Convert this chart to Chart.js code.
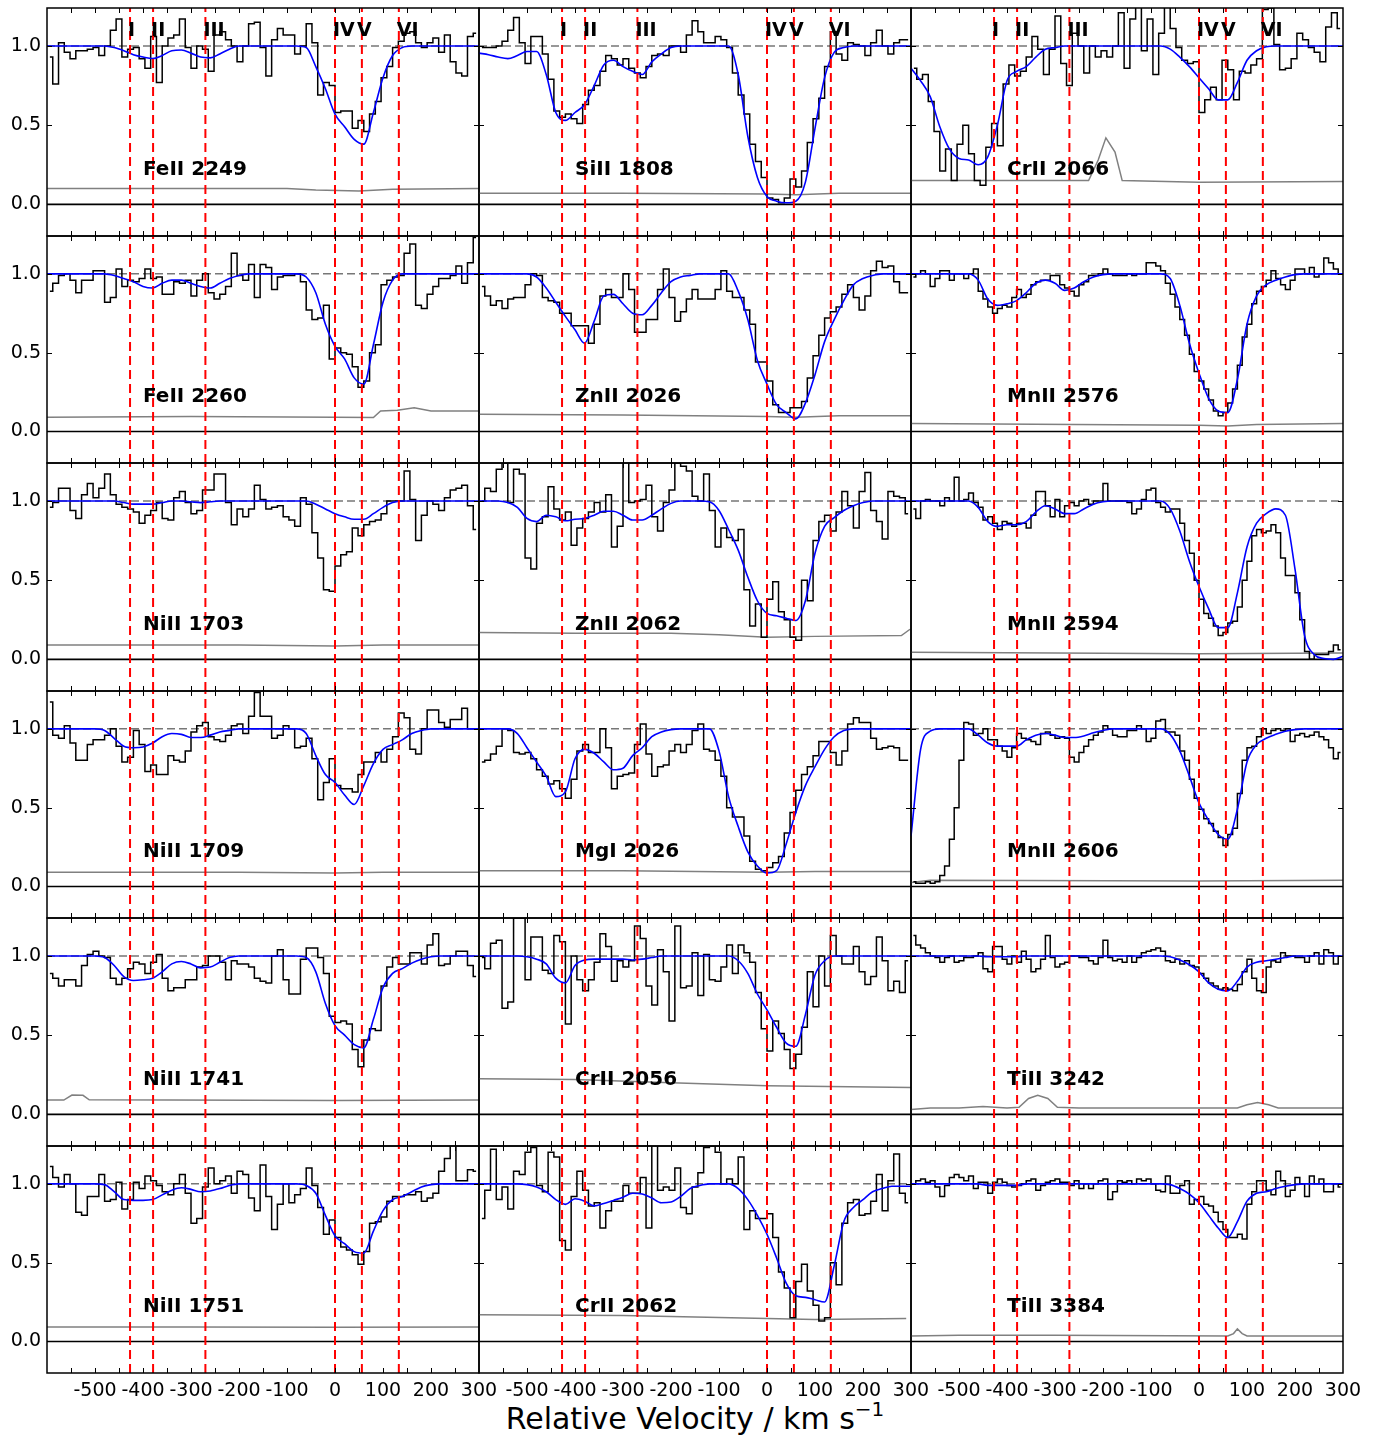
<!DOCTYPE html>
<html>
<head>
<meta charset="utf-8">
<script src="https://cdn.jsdelivr.net/npm/chart.js@4.4.1/dist/chart.umd.min.js"></script>
<style>
  html, body { margin: 0; padding: 0; background: #fff; }
  #fig { position: relative; width: 1386px; height: 1438px; overflow: hidden; background: #fff; }
  #fig canvas { position: absolute; }
  #xlabel {
    position: absolute; left: 47px; width: 1296px; top: 1404px;
    text-align: center; font-family: "DejaVu Sans", sans-serif; font-size: 30px; line-height: 30px; color: #000;
  }
  #xlabel span { font-size: 20px; position: relative; top: -13px; }
</style>
</head>
<body>
<div id="fig"><div id="xlabel">Relative Velocity / km s<span>&minus;1</span></div></div>
<script>
/* ── velocity grids (km/s) ── */
const VEL12 = [-594,-582,-570,-558,-546,-534,-522,-510,-498,-486,
  -474,-462,-450,-438,-426,-414,-402,-390,-378,-366,
  -354,-342,-330,-318,-306,-294,-282,-270,-258,-246,
  -234,-222,-210,-198,-186,-174,-162,-150,-138,-126,
  -114,-102,-90,-78,-66,-54,-42,-30,-18,-6,
  6,18,30,42,54,66,78,90,102,114,
  126,138,150,162,174,186,198,210,222,234,
  246,258,270,282,294];
const VEL10 = [-595,-585,-575,-565,-555,-545,-535,-525,-515,-505,
  -495,-485,-475,-465,-455,-445,-435,-425,-415,-405,
  -395,-385,-375,-365,-355,-345,-335,-325,-315,-305,
  -295,-285,-275,-265,-255,-245,-235,-225,-215,-205,
  -195,-185,-175,-165,-155,-145,-135,-125,-115,-105,
  -95,-85,-75,-65,-55,-45,-35,-25,-15,-5,
  5,15,25,35,45,55,65,75,85,95,
  105,115,125,135,145,155,165,175,185,195,
  205,215,225,235,245,255,265,275,285,295];
const VEL_MODEL = [-600,-580,-560,-540,-520,-500,-480,-460,-440,-420,
  -400,-380,-360,-340,-320,-300,-280,-260,-240,-220,
  -200,-180,-160,-140,-120,-100,-80,-60,-40,-20,
  0,20,40,60,80,100,120,140,160,180,
  200,220,240,260,280,300];

const COMPONENT_V = [-427, -379, -270, 0, 56, 133];
const COMPONENT_NAMES = ['I', 'II', 'III', 'IV', 'V', 'VI'];
const X_TICK_LABELS = [-500, -400, -300, -200, -100, 0, 100, 200, 300];
const X_MINOR = [-550,-500,-450,-400,-350,-300,-250,-200,-150,-100,-50,0,50,100,150,200,250];
const Y_TICKS = [0, 0.5, 1.0];

/* ── FeII 2249 ── */
const FEII2249_FLUX = [0.93,0.76,1.02,0.96,0.92,0.97,0.97,0.98,0.99,0.94,
  1.0,1.1,1.17,0.93,0.98,0.99,0.92,0.86,1.06,0.77,
  1.0,1.05,1.07,1.17,0.99,0.86,1.0,0.98,0.84,1.07,
  1.09,1.04,1.0,0.9,1.0,1.14,1.15,0.99,0.81,1.04,
  1.11,1.07,1.07,0.95,1.0,1.14,1.02,0.69,0.77,0.75,
  0.58,0.59,0.59,0.48,0.53,0.46,0.57,0.65,0.8,0.87,
  0.99,1.03,1.08,1.09,1.02,0.99,1.02,1.05,0.96,1.07,
  0.9,0.83,0.81,1.06,1.08];
const FEII2249_MODEL = [1,1,1,1,1,1,1,0.99,0.97,0.945,
  0.93,0.92,0.94,0.97,0.975,0.955,0.93,0.925,0.95,0.98,
  1,1,1,1,1,1,1,0.99,0.87,0.73,
  0.57,0.49,0.41,0.38,0.58,0.8,0.94,0.99,1,1,
  1,1,1,1,1,1];
const FEII2249_ERR = [[-600,0.1],[-300,0.1],[-100,0.1],[-40,0.09],[50,0.085],[120,0.095],[300,0.1]];

/* ── FeII 2260 ── */
const FEII2260_FLUX = [0.89,0.94,0.99,1.0,0.96,0.88,0.96,0.96,1.02,1.02,
  0.82,0.85,1.03,0.92,0.96,0.95,0.97,1.03,0.97,0.98,
  0.87,0.87,0.95,0.94,0.96,0.86,0.96,1.0,0.88,0.84,
  0.87,0.92,1.13,0.99,0.96,1.06,0.85,1.06,1.04,0.9,
  0.98,0.99,0.99,1.0,0.95,0.77,0.71,0.72,0.8,0.46,
  0.53,0.5,0.49,0.41,0.28,0.32,0.5,0.55,0.93,0.96,
  0.98,0.99,1.13,1.19,0.8,0.78,0.87,0.92,0.97,0.97,
  0.99,1.05,0.94,1.07,1.23];
const FEII2260_MODEL = [1,1,1,1,1,1,1,0.99,0.97,0.95,
  0.92,0.91,0.94,0.96,0.96,0.94,0.92,0.91,0.94,0.97,
  0.99,1,1,1,1,1,1,0.98,0.88,0.68,
  0.54,0.46,0.34,0.3,0.55,0.82,0.96,1,1,1,
  1,1,1,1,1,1];
const FEII2260_ERR = [[-600,0.09],[-300,0.095],[0,0.09],[80,0.088],[95,0.13],[130,0.135],[165,0.15],[200,0.13],[300,0.13]];

/* ── NiII 1703 ── */
const NIII1703_FLUX = [0.96,0.99,1.08,1.08,0.94,0.89,1.04,1.11,1.02,1.08,
  1.17,1.04,0.98,0.96,0.95,0.93,0.86,0.91,0.94,0.99,
  0.89,0.88,1.02,1.06,0.99,0.92,0.94,1.07,1.07,1.17,
  1.17,0.99,0.85,0.95,0.9,0.95,1.1,1.01,0.95,0.96,
  0.97,0.9,0.88,0.84,1.02,0.98,0.8,0.64,0.44,0.43,
  0.59,0.66,0.68,0.83,0.78,0.85,0.87,0.88,0.92,1.0,
  1.0,1.0,1.19,1.01,0.75,0.91,1.0,0.98,0.94,1.02,
  1.07,1.08,1.1,0.97,0.82];
const NIII1703_MODEL = [1,1,1,1,1,1,1,1,0.99,0.98,
  0.98,0.98,0.99,1,1,0.995,0.99,0.995,1,1,
  1,1,1,1,1,1,1,1,0.98,0.95,
  0.92,0.9,0.885,0.885,0.92,0.96,0.99,1,1,1,
  1,1,1,1,1,1];
const NIII1703_ERR = [[-600,0.09],[-200,0.09],[0,0.085],[100,0.09],[300,0.09]];

/* ── NiII 1709 ── */
const NIII1709_FLUX = [1.17,0.96,0.94,1.02,0.91,0.8,0.8,0.9,0.93,0.93,
  0.96,1.0,0.89,0.79,0.82,0.99,0.9,0.73,0.77,0.71,
  0.71,0.83,0.8,0.79,0.86,0.98,1.02,1.04,0.95,0.93,
  0.92,0.96,1.02,1.03,0.97,1.08,1.23,1.08,1.08,0.94,
  0.96,1.02,1.0,0.88,0.89,0.94,0.81,0.55,0.66,0.81,
  0.64,0.62,0.62,0.6,0.71,0.79,0.79,0.85,0.79,0.87,
  0.95,1.1,1.07,0.87,0.84,1.0,1.12,1.12,1.04,1.01,
  1.06,1.06,1.13,1.0,1.0];
const NIII1709_MODEL = [1,1,1,1,1,1,0.99,0.94,0.89,0.88,
  0.885,0.91,0.95,0.97,0.965,0.945,0.945,0.96,0.98,0.99,
  1,1,1,1,1,1,1,0.97,0.83,0.71,
  0.66,0.58,0.52,0.64,0.78,0.87,0.9,0.93,0.97,0.99,
  1,1,1,1,1,1];
const NIII1709_ERR = [[-600,0.09],[-200,0.09],[0,0.085],[100,0.09],[300,0.09]];

/* ── NiII 1741 ── */
const NIII1741_FLUX = [0.89,0.86,0.81,0.85,0.85,0.81,0.94,1.01,1.03,1.0,
  0.99,0.86,0.82,0.86,0.92,0.96,0.95,0.89,0.96,1.01,
  0.86,0.78,0.8,0.8,0.85,0.85,0.93,0.94,1.0,1.0,
  0.96,0.85,0.97,0.95,0.95,0.93,0.86,0.84,0.83,1.0,
  1.04,0.85,0.76,0.76,0.98,1.05,1.05,0.99,0.89,0.62,
  0.58,0.59,0.57,0.41,0.3,0.47,0.54,0.53,0.81,0.93,
  0.99,0.95,0.95,1.02,1.02,0.95,1.07,1.14,0.94,0.95,
  1.0,1.03,1.03,0.94,0.87];
const NIII1741_MODEL = [1,1,1,1,1,1,0.99,0.94,0.87,0.845,
  0.85,0.86,0.9,0.95,0.965,0.95,0.925,0.93,0.96,0.99,
  1,1,1,1,1,1,1,0.99,0.9,0.7,
  0.56,0.5,0.44,0.42,0.6,0.8,0.89,0.92,0.955,0.98,
  0.995,1,1,1,1,1];
const NIII1741_ERR = [[-600,0.09],[-565,0.09],[-548,0.122],[-525,0.12],[-512,0.092],[0,0.088],[300,0.09]];

/* ── NiII 1751 ── */
const NIII1751_FLUX = [1.11,1.04,0.98,1.06,1.0,0.82,0.8,0.92,0.92,1.06,
  0.89,0.9,1.01,0.84,0.9,1.01,0.97,1.05,1.02,0.99,
  0.95,0.93,1.0,1.06,0.94,0.75,0.78,0.98,1.1,1.0,
  1.02,1.05,0.94,1.08,1.06,0.91,0.83,1.12,0.92,0.71,
  0.87,1.0,0.88,0.93,0.97,1.1,0.99,0.85,0.68,0.77,
  0.66,0.6,0.58,0.55,0.49,0.57,0.75,0.76,0.79,0.89,
  0.92,0.92,0.93,0.93,0.95,0.89,0.91,0.94,1.08,1.16,
  1.25,1.02,1.02,1.09,1.08];
const NIII1751_MODEL = [1,1,1,1,1,1,0.995,0.95,0.9,0.895,
  0.895,0.9,0.93,0.96,0.975,0.965,0.95,0.955,0.97,0.99,
  1,1,1,1,1,1,1,0.99,0.94,0.8,
  0.67,0.62,0.57,0.56,0.7,0.83,0.9,0.92,0.95,0.98,
  0.995,1,1,1,1,1];
const NIII1751_ERR = [[-600,0.092],[-300,0.092],[0,0.09],[300,0.092]];

/* ── SiII 1808 ── */
const SIII1808_FLUX = [0.99,0.99,0.99,1.0,1.03,1.1,1.18,1.02,0.89,1.06,
  1.06,0.95,0.79,0.59,0.55,0.57,0.54,0.51,0.63,0.72,
  0.75,0.84,0.94,0.92,0.88,0.92,0.86,0.83,0.8,0.87,
  0.94,0.95,0.94,1.0,1.0,0.96,1.07,1.16,1.09,1.02,
  1.02,1.06,1.04,0.99,0.83,0.69,0.57,0.38,0.27,0.17,
  0.04,0.03,0.01,0.04,0.16,0.11,0.21,0.39,0.54,0.67,
  0.87,1.09,0.95,0.91,1.02,1.01,1.0,0.94,1.02,1.1,
  1.0,0.95,1.02,1.04,1.04];
const SIII1808_MODEL = [0.955,0.945,0.93,0.92,0.94,0.965,0.965,0.82,0.58,0.53,
  0.58,0.63,0.75,0.88,0.91,0.87,0.84,0.82,0.9,0.95,
  0.99,1,1,1,1,1,1,0.82,0.43,0.17,
  0.05,0.02,0.01,0.02,0.14,0.48,0.8,0.96,0.99,1,
  1,1,1,1,1,1];
const SIII1808_ERR = [[-600,0.07],[-300,0.07],[0,0.065],[60,0.06],[150,0.07],[300,0.07]];

/* ── ZnII 2026 ── */
const ZNII2026_FLUX = [0.92,0.86,0.8,0.83,0.78,0.84,0.85,0.85,0.93,1.0,
  0.99,0.85,0.83,0.82,0.75,0.75,0.67,0.67,0.67,0.56,
  0.68,0.86,0.9,0.85,0.85,1.0,0.9,0.63,0.63,0.71,
  0.71,0.9,1.03,0.85,0.7,0.76,0.84,0.9,0.84,0.84,
  0.84,0.9,1.02,0.89,0.85,0.85,0.77,0.68,0.44,0.44,
  0.32,0.17,0.12,0.12,0.15,0.15,0.19,0.34,0.48,0.61,
  0.72,0.76,0.79,0.87,0.93,0.85,0.77,0.86,1.02,1.08,
  1.04,1.05,0.95,0.88,0.88];
const ZNII2026_MODEL = [1,1,1,1,1,1,0.98,0.91,0.82,0.73,
  0.645,0.56,0.7,0.86,0.87,0.81,0.75,0.74,0.8,0.88,
  0.95,0.98,0.99,1,1,1,1,0.89,0.71,0.45,
  0.3,0.17,0.12,0.08,0.18,0.36,0.57,0.71,0.83,0.93,
  0.97,0.99,1,1,1,1];
const ZNII2026_ERR = [[-600,0.11],[-300,0.105],[0,0.095],[60,0.09],[150,0.1],[300,0.1]];

/* ── ZnII 2062 ── */
const ZNII2062_FLUX = [1.0,1.08,1.06,1.2,1.24,0.99,1.2,1.17,0.64,0.57,
  0.86,0.9,1.09,0.95,0.88,0.93,0.72,0.83,0.89,0.93,
  0.99,0.93,1.04,0.71,0.84,1.25,0.99,1.0,1.01,1.1,
  0.9,0.81,0.99,1.07,1.24,1.22,1.19,1.03,1.0,1.17,
  0.94,0.71,0.83,0.77,0.75,0.82,0.44,0.21,0.35,0.14,
  0.38,0.49,0.3,0.25,0.14,0.12,0.5,0.37,0.75,0.87,
  0.91,0.81,0.93,1.06,0.97,0.83,1.06,1.18,0.94,0.87,
  0.76,1.06,1.03,1.02,0.92];
const ZNII2062_MODEL = [1,1,1,0.99,0.96,0.89,0.87,0.91,0.9,0.875,
  0.885,0.89,0.91,0.935,0.935,0.91,0.88,0.88,0.91,0.95,
  0.985,1,1,1,0.995,0.94,0.82,0.69,0.52,0.37,
  0.29,0.275,0.26,0.245,0.37,0.67,0.84,0.895,0.94,0.97,
  0.99,1,1,1,1,1];
const ZNII2062_ERR = [[-600,0.17],[-400,0.165],[-200,0.165],[-100,0.155],[0,0.14],[100,0.145],[280,0.15],[298,0.19]];

/* ── MgI 2026 ── */
const MGI2026_FLUX = [0.79,0.8,0.84,0.89,1.0,0.99,0.85,0.84,0.85,0.81,
  0.74,0.7,0.65,0.67,0.62,0.56,0.68,0.86,0.9,0.85,
  0.85,1.0,0.88,0.62,0.7,0.71,0.72,0.9,1.03,0.84,
  0.7,0.76,0.77,0.86,0.9,0.85,0.9,0.99,1.03,0.87,
  0.86,0.8,0.7,0.5,0.44,0.44,0.32,0.16,0.11,0.1,
  0.12,0.15,0.19,0.34,0.47,0.61,0.71,0.76,0.83,0.92,
  0.92,0.85,0.77,0.86,1.03,1.07,1.04,1.04,0.94,0.87,
  0.88,0.89,0.88,0.8,0.8];
const MGI2026_MODEL = [1,1,1,1,0.97,0.88,0.79,0.7,0.57,0.6,
  0.81,0.87,0.845,0.79,0.74,0.75,0.83,0.88,0.95,0.98,
  0.995,1,1,1,1,0.86,0.57,0.38,0.22,0.13,
  0.085,0.1,0.27,0.47,0.64,0.76,0.87,0.95,0.99,1,
  1,1,1,1,1,1];
const MGI2026_ERR = [[-600,0.1],[-300,0.1],[0,0.09],[100,0.095],[300,0.095]];

/* ── CrII 2056 ── */
const CRII2056_FLUX = [0.99,0.92,1.08,1.1,0.67,0.71,1.24,1.24,0.85,1.12,
  1.12,0.91,0.89,1.13,1.09,0.57,1.0,0.85,0.78,0.85,
  0.96,1.14,1.06,0.84,0.97,0.93,0.97,1.19,1.11,0.81,
  0.69,1.04,0.9,0.59,1.19,0.8,0.81,1.02,0.75,1.01,
  0.85,0.84,0.93,1.07,0.89,1.07,1.02,0.96,0.77,0.54,
  0.4,0.59,0.51,0.41,0.29,0.38,0.55,0.9,0.68,1.0,
  0.81,1.13,1.0,0.95,0.95,1.06,0.9,0.82,0.87,1.12,
  0.97,0.78,0.84,0.77,0.97];
const CRII2056_MODEL = [1,1,1,1,1,0.995,0.98,0.95,0.86,0.83,
  0.94,0.975,0.98,0.98,0.98,0.98,0.975,0.98,0.99,1,
  1,1,1,1,1,1,1,0.97,0.89,0.76,
  0.66,0.55,0.45,0.43,0.63,0.88,0.97,1,1,1,
  1,1,1,1,1,1];
const CRII2056_ERR = [[-600,0.225],[-400,0.22],[-200,0.2],[0,0.18],[300,0.17]];

/* ── CrII 2062 ── */
const CRII2062_FLUX = [0.78,0.96,1.22,0.9,0.98,0.84,1.08,1.06,1.2,1.23,
  0.99,0.95,1.2,1.17,0.64,0.58,0.92,1.08,0.96,0.86,
  0.88,0.72,0.83,0.89,0.89,0.99,0.94,0.94,1.04,0.72,
  1.25,0.96,0.98,0.96,1.1,0.85,0.81,0.98,1.07,1.23,
  1.24,1.2,1.0,1.03,1.0,1.17,0.71,0.83,0.78,0.78,
  0.81,0.66,0.44,0.34,0.15,0.38,0.49,0.32,0.23,0.13,
  0.15,0.5,0.36,0.75,0.88,0.9,0.8,0.81,0.89,1.06,
  0.83,1.02,1.19,0.94,0.88];
const CRII2062_MODEL = [1,1,1,1,1,0.995,0.98,0.95,0.9,0.87,
  0.905,0.89,0.86,0.875,0.895,0.915,0.94,0.935,0.91,0.88,
  0.885,0.92,0.97,0.99,1,1,1,0.97,0.9,0.8,
  0.68,0.53,0.37,0.29,0.28,0.265,0.25,0.48,0.76,0.85,
  0.9,0.95,0.97,0.985,0.985,0.985];
const CRII2062_ERR = [[-600,0.17],[-300,0.165],[0,0.145],[100,0.14],[290,0.145]];

/* ── CrII 2066 ── */
const CRII2066_FLUX = [0.86,0.79,0.82,0.65,0.46,0.21,0.35,0.15,0.38,0.5,
  0.32,0.15,0.12,0.36,0.51,0.37,0.76,0.88,0.81,0.84,
  0.93,1.06,0.98,0.82,0.98,1.19,0.89,0.75,1.08,1.0,
  0.83,1.0,0.93,0.97,0.93,1.0,1.21,0.86,1.17,1.25,
  0.97,1.17,0.82,1.08,1.25,1.11,0.99,0.91,0.89,0.9,
  0.58,0.66,0.74,0.66,0.91,0.85,0.66,0.84,0.83,0.88,
  0.92,1.23,1.24,1.01,0.85,0.86,0.92,1.08,1.04,0.99,
  0.96,0.9,1.12,1.21,1.11];
const CRII2066_MODEL = [0.86,0.78,0.68,0.49,0.35,0.29,0.28,0.25,0.3,0.5,
  0.78,0.84,0.87,0.93,0.98,0.99,1,1,1,1,
  1,1,1,1,1,1,1,0.98,0.93,0.87,
  0.8,0.73,0.66,0.66,0.77,0.91,0.97,0.995,1,1,
  1,1,1,1,1,1];
const CRII2066_ERR = [[-600,0.15],[-230,0.15],[-210,0.28],[-194,0.42],[-175,0.33],[-160,0.15],[0,0.14],[300,0.145]];

/* ── MnII 2576 ── */
const MNII2576_FLUX = [0.98,1.0,1.02,1.0,0.92,0.97,1.02,1.02,0.96,1.0,
  1.0,0.97,1.0,1.03,0.89,0.84,0.79,0.75,0.78,0.8,
  0.79,0.85,0.9,0.85,0.87,0.93,0.95,0.96,0.96,0.99,
  0.99,0.93,0.91,0.89,0.86,0.93,0.95,0.99,0.99,1.0,
  1.03,1.0,0.99,0.99,0.99,1.0,0.99,1.0,1.0,1.07,
  1.07,1.05,1.02,0.94,0.87,0.79,0.71,0.61,0.49,0.38,
  0.32,0.27,0.2,0.13,0.1,0.12,0.18,0.27,0.42,0.6,
  0.68,0.81,0.89,0.92,0.96,1.02,0.97,0.93,0.9,0.96,
  1.03,1.03,1.0,1.04,0.98,1.0,1.1,1.07,1.03,1.0];
const MNII2576_MODEL = [1,1,1,1,1,1,1,0.96,0.84,0.8,
  0.81,0.83,0.88,0.94,0.96,0.94,0.895,0.91,0.95,0.98,
  0.995,1,1,1,1,1,1,0.97,0.8,0.56,
  0.37,0.21,0.13,0.12,0.33,0.68,0.86,0.93,0.96,0.98,
  0.995,1,1,1,1,1];
const MNII2576_ERR = [[-600,0.05],[0,0.04],[60,0.035],[120,0.045],[300,0.05]];

/* ── MnII 2594 ── */
const MNII2594_FLUX = [0.95,0.89,1.0,1.01,1.0,1.0,0.97,1.02,1.0,1.15,
  1.0,1.01,1.05,0.99,0.96,0.88,0.9,0.86,0.82,0.87,
  0.86,0.84,0.86,0.86,0.83,0.91,1.06,1.06,0.97,0.9,
  1.01,0.9,0.97,0.99,0.97,1.0,1.01,0.98,1.0,1.0,
  1.11,1.0,1.0,1.0,1.0,0.99,0.92,0.95,1.01,1.07,
  1.08,0.99,0.96,0.93,0.95,0.95,0.86,0.75,0.67,0.5,
  0.38,0.29,0.26,0.21,0.15,0.17,0.23,0.24,0.33,0.5,
  0.62,0.78,0.82,0.8,0.81,0.85,0.8,0.64,0.53,0.53,
  0.42,0.25,0.05,0.0,0.03,0.03,0.03,0.05,0.09,0.06];
const MNII2594_MODEL = [1,1,1,1,1,1,1,0.96,0.87,0.84,
  0.85,0.85,0.87,0.93,0.97,0.95,0.92,0.92,0.95,0.98,
  0.995,1,1,1,1,1,1,0.95,0.81,0.62,
  0.46,0.32,0.2,0.2,0.42,0.71,0.86,0.92,0.95,0.91,
  0.57,0.15,0.03,0.005,0,0.02];
const MNII2594_ERR = [[-600,0.045],[0,0.035],[300,0.04]];

/* ── MnII 2606 ── */
const MNII2606_FLUX = [0.03,0.02,0.02,0.03,0.02,0.03,0.07,0.13,0.3,0.5,
  0.8,1.04,1.03,0.96,0.97,1.0,0.93,0.93,0.89,0.86,
  0.82,0.88,0.97,0.94,0.93,0.92,0.9,0.97,0.98,0.96,
  0.94,0.95,0.94,0.82,0.79,0.85,0.89,0.93,0.96,0.98,
  1.02,1.0,0.96,0.95,0.95,0.99,0.99,1.02,1.0,0.92,
  0.94,1.05,1.06,0.98,0.98,0.96,0.86,0.8,0.68,0.56,
  0.49,0.43,0.4,0.35,0.31,0.26,0.33,0.37,0.59,0.8,
  0.88,0.89,0.95,1.0,0.97,0.99,1.0,0.99,1.0,0.92,
  0.96,0.97,0.95,0.96,0.98,0.95,0.93,0.88,0.81,0.85];
const MNII2606_MODEL = [0.32,0.87,0.985,1,1,1,1,0.96,0.91,0.89,
  0.89,0.89,0.93,0.96,0.97,0.96,0.945,0.945,0.955,0.975,
  0.99,1,1,1,1,1,1,0.965,0.86,0.7,
  0.53,0.42,0.33,0.3,0.49,0.79,0.9,0.94,0.965,0.985,
  0.995,1,1,1,1,1];
const MNII2606_ERR = [[-600,0.025],[-560,0.04],[0,0.035],[300,0.04]];

/* ── TiII 3242 ── */
const TIII3242_FLUX = [1.13,1.07,1.05,1.02,1.0,0.99,0.96,0.99,1.0,0.96,
  0.97,0.99,0.99,1.0,1.02,0.92,0.9,1.06,1.06,0.98,
  0.95,1.0,0.96,1.03,0.98,0.9,0.92,0.98,1.13,0.99,
  0.93,0.95,0.96,1.0,1.0,0.99,0.99,0.97,0.95,0.99,
  1.1,0.99,0.97,0.98,0.96,1.0,0.96,0.99,1.02,1.03,
  1.04,1.05,1.03,0.97,0.96,0.98,0.95,0.97,0.94,0.93,
  0.89,0.86,0.83,0.81,0.79,0.8,0.79,0.78,0.82,0.9,
  0.98,0.86,0.78,0.77,0.93,0.97,0.96,1.02,1.0,1.0,
  0.99,0.99,0.96,1.0,1.02,0.95,1.04,1.02,0.95,1.0];
const TIII3242_MODEL = [1,1,1,1,1,1,1,1,0.995,0.995,
  0.995,0.995,1,1,1,1,1,1,1,1,
  1,1,1,1,1,1,1,0.995,0.975,0.945,
  0.9,0.83,0.79,0.78,0.84,0.93,0.96,0.97,0.98,0.99,
  1,1,1,1,1,1];
const TIII3242_ERR = [[-600,0.03],[-560,0.04],[-500,0.04],[-450,0.05],[-400,0.04],[-375,0.045],[-355,0.1],[-336,0.12],[-315,0.1],[-295,0.045],[-250,0.04],[0,0.04],[80,0.04],[100,0.06],[122,0.075],[145,0.06],[165,0.04],[300,0.04]];

/* ── TiII 3384 ── */
const TIII3384_FLUX = [1.0,1.02,1.03,1.01,1.02,0.98,0.92,0.99,1.04,1.06,
  1.04,1.02,1.05,0.97,1.01,1.01,0.94,1.01,1.03,1.01,
  0.99,0.98,0.99,1.0,1.02,1.03,0.96,0.99,1.01,1.02,
  1.03,1.01,1.01,0.99,1.02,0.97,1.0,0.97,1.0,1.02,
  1.03,0.9,0.95,1.02,1.01,1.02,1.0,1.03,1.02,1.03,
  1.0,0.96,0.95,1.05,0.94,0.94,0.99,1.02,0.87,0.9,
  0.92,0.87,0.86,0.82,0.76,0.71,0.66,0.66,0.68,0.65,
  0.87,0.95,1.02,1.02,0.96,0.93,1.08,1.02,0.92,0.96,
  1.04,1.0,0.92,1.05,1.0,1.03,0.95,0.95,1.0,0.98];
const TIII3384_MODEL = [1,1,1,1,1,1,1,1,0.99,0.99,
  0.99,0.99,1,1,1,1,1,1,1,1,
  1,1,1,1,1,1,1,0.995,0.97,0.935,
  0.88,0.8,0.72,0.66,0.76,0.89,0.94,0.95,0.97,0.985,
  0.995,1,1,1,1,1];
const TIII3384_ERR = [[-600,0.035],[-500,0.04],[-300,0.04],[60,0.035],[72,0.05],[80,0.08],[90,0.05],[100,0.035],[300,0.035]];

/* ── panel table, row by row ── */
const PANELS = [
  { label: 'FeII 2249', vel: VEL12, flux: FEII2249_FLUX, model: FEII2249_MODEL, err: FEII2249_ERR },
  { label: 'SiII 1808', vel: VEL12, flux: SIII1808_FLUX, model: SIII1808_MODEL, err: SIII1808_ERR },
  { label: 'CrII 2066', vel: VEL12, flux: CRII2066_FLUX, model: CRII2066_MODEL, err: CRII2066_ERR },
  { label: 'FeII 2260', vel: VEL12, flux: FEII2260_FLUX, model: FEII2260_MODEL, err: FEII2260_ERR },
  { label: 'ZnII 2026', vel: VEL12, flux: ZNII2026_FLUX, model: ZNII2026_MODEL, err: ZNII2026_ERR },
  { label: 'MnII 2576', vel: VEL10, flux: MNII2576_FLUX, model: MNII2576_MODEL, err: MNII2576_ERR },
  { label: 'NiII 1703', vel: VEL12, flux: NIII1703_FLUX, model: NIII1703_MODEL, err: NIII1703_ERR },
  { label: 'ZnII 2062', vel: VEL12, flux: ZNII2062_FLUX, model: ZNII2062_MODEL, err: ZNII2062_ERR },
  { label: 'MnII 2594', vel: VEL10, flux: MNII2594_FLUX, model: MNII2594_MODEL, err: MNII2594_ERR },
  { label: 'NiII 1709', vel: VEL12, flux: NIII1709_FLUX, model: NIII1709_MODEL, err: NIII1709_ERR },
  { label: 'MgI 2026',  vel: VEL12, flux: MGI2026_FLUX,  model: MGI2026_MODEL,  err: MGI2026_ERR },
  { label: 'MnII 2606', vel: VEL10, flux: MNII2606_FLUX, model: MNII2606_MODEL, err: MNII2606_ERR },
  { label: 'NiII 1741', vel: VEL12, flux: NIII1741_FLUX, model: NIII1741_MODEL, err: NIII1741_ERR },
  { label: 'CrII 2056', vel: VEL12, flux: CRII2056_FLUX, model: CRII2056_MODEL, err: CRII2056_ERR },
  { label: 'TiII 3242', vel: VEL10, flux: TIII3242_FLUX, model: TIII3242_MODEL, err: TIII3242_ERR },
  { label: 'NiII 1751', vel: VEL12, flux: NIII1751_FLUX, model: NIII1751_MODEL, err: NIII1751_ERR },
  { label: 'CrII 2062', vel: VEL12, flux: CRII2062_FLUX, model: CRII2062_MODEL, err: CRII2062_ERR },
  { label: 'TiII 3384', vel: VEL10, flux: TIII3384_FLUX, model: TIII3384_MODEL, err: TIII3384_ERR },
];

/* ── layout ── */
const V_MIN = -600, V_MAX = 300, Y_MIN = -0.2, Y_MAX = 1.24;
const PANEL_LEFTS = [47, 479, 911];
const PANEL_W = 432;
const ROW_EDGES = [8, 236, 463, 691, 918, 1146, 1373];
const PAD_L = 50, PAD_R = 30, PAD_T = 24, PAD_B = 45;
const TICK_LEN = 5;

Chart.defaults.font.family = '"DejaVu Sans", sans-serif';
Chart.defaults.font.size = 19;
Chart.defaults.color = '#000';

/* frame, inward ticks and panel texts */
const panelDecor = {
  id: 'panelDecor',
  afterDatasetsDraw(chart, args, opts) {
    const { ctx, chartArea: a, scales: { x, y } } = chart;
    ctx.save();
    ctx.strokeStyle = '#000';
    ctx.lineWidth = 1;
    ctx.beginPath();
    X_MINOR.forEach(v => {
      const px = Math.round(x.getPixelForValue(v)) + 0.5;
      ctx.moveTo(px, a.top); ctx.lineTo(px, a.top + TICK_LEN);
      ctx.moveTo(px, a.bottom); ctx.lineTo(px, a.bottom - TICK_LEN);
    });
    Y_TICKS.forEach(v => {
      const py = Math.round(y.getPixelForValue(v)) + 0.5;
      ctx.moveTo(a.left, py); ctx.lineTo(a.left + TICK_LEN, py);
      ctx.moveTo(a.right, py); ctx.lineTo(a.right - TICK_LEN, py);
    });
    ctx.stroke();
    ctx.lineWidth = 1.5;
    ctx.strokeRect(a.left, a.top, a.right - a.left, a.bottom - a.top);

    ctx.fillStyle = '#000';
    ctx.textAlign = 'left';
    ctx.textBaseline = 'middle';
    ctx.font = 'bold 20px "DejaVu Sans", sans-serif';
    ctx.fillText(opts.label, x.getPixelForValue(-400), y.getPixelForValue(0.22));
    if (opts.components) {
      ctx.font = 'bold 19px "DejaVu Sans", sans-serif';
      COMPONENT_V.forEach((v, i) => {
        const shift = COMPONENT_NAMES[i] === 'V' ? -5 : -2;
        ctx.fillText(COMPONENT_NAMES[i], x.getPixelForValue(v) + shift, y.getPixelForValue(1.095));
      });
    }
    ctx.restore();
  }
};

const fig = document.getElementById('fig');

PANELS.forEach((p, idx) => {
  const r = Math.floor(idx / 3), c = idx % 3;
  const h = ROW_EDGES[r + 1] - ROW_EDGES[r];
  const canvas = document.createElement('canvas');
  canvas.width = PAD_L + PANEL_W + PAD_R;
  canvas.height = PAD_T + h + PAD_B;
  canvas.style.left = (PANEL_LEFTS[c] - PAD_L) + 'px';
  canvas.style.top = (ROW_EDGES[r] - PAD_T) + 'px';
  fig.appendChild(canvas);

  const datasets = [];
  COMPONENT_V.forEach(v => datasets.push({
    data: [{ x: v, y: Y_MIN }, { x: v, y: Y_MAX }],
    borderColor: '#ff0000', borderWidth: 2, borderDash: [9, 5], order: 0,
  }));
  datasets.push({
    data: VEL_MODEL.map((v, i) => ({ x: v, y: p.model[i] })),
    borderColor: '#0000ff', borderWidth: 1.6, cubicInterpolationMode: 'monotone', order: 1,
  });
  datasets.push({
    data: p.vel.map((v, i) => ({ x: v, y: p.flux[i] })),
    borderColor: '#000', borderWidth: 1.5, stepped: 'middle', order: 2,
  });
  datasets.push({
    data: p.err.map(([v, f]) => ({ x: v, y: f })),
    borderColor: '#808080', borderWidth: 1.5, order: 3,
  });
  datasets.push({
    data: [{ x: V_MIN, y: 1 }, { x: V_MAX, y: 1 }],
    borderColor: '#777777', borderWidth: 1.5, borderDash: [8, 4], order: 4,
  });
  datasets.push({
    data: [{ x: V_MIN, y: 0 }, { x: V_MAX, y: 0 }],
    borderColor: '#000', borderWidth: 1.6, order: 4,
  });

  new Chart(canvas, {
    type: 'line',
    data: { datasets },
    options: {
      responsive: false,
      animation: false,
      events: [],
      layout: { padding: { top: PAD_T, right: PAD_R, left: 0, bottom: 0 } },
      elements: { point: { radius: 0 }, line: { tension: 0, fill: false } },
      plugins: {
        legend: { display: false },
        tooltip: { enabled: false },
        panelDecor: { label: p.label, components: r === 0 },
      },
      scales: {
        x: {
          type: 'linear', min: V_MIN, max: V_MAX,
          grid: { display: false, drawTicks: false },
          border: { display: false },
          ticks: { display: r === 5, padding: 7, autoSkip: false, maxRotation: 0, callback: v => String(v) },
          afterBuildTicks: s => { s.ticks = X_TICK_LABELS.map(v => ({ value: v })); },
          afterFit: s => { s.height = PAD_B; },
        },
        y: {
          type: 'linear', min: Y_MIN, max: Y_MAX,
          grid: { display: false, drawTicks: false },
          border: { display: false },
          ticks: { display: c === 0, padding: 6, callback: v => v.toFixed(1) },
          afterBuildTicks: s => { s.ticks = Y_TICKS.map(v => ({ value: v })); },
          afterFit: s => { s.width = PAD_L; },
        },
      },
    },
    plugins: [panelDecor],
  });
});
</script>
</body>
</html>
